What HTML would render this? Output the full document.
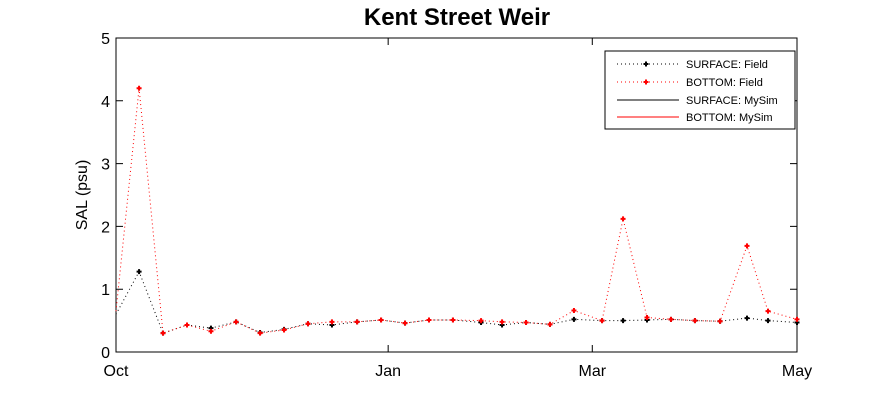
<!DOCTYPE html>
<html><head><meta charset="utf-8"><style>
html,body{margin:0;padding:0;background:#fff;}
svg{display:block;font-family:"Liberation Sans",Arial,sans-serif;}
</style></head><body>
<svg id="chart" width="887" height="414">
<rect x="0" y="0" width="887" height="414" fill="#fff"/>
<text x="457" y="25" text-anchor="middle" font-size="24" font-weight="bold">Kent Street Weir</text>
<text transform="translate(87,195) rotate(-90)" text-anchor="middle" font-size="16">SAL (psu)</text>
<g id="axes"></g>
<g id="series"></g>
<g>
<rect x="605" y="51" width="190" height="78" fill="#fff" stroke="#000" stroke-width="1"/>
<g>
<line x1="617" y1="64" x2="679" y2="64" stroke="#000" stroke-dasharray="1,3"/>
<path d="M646,61.5v5M643.5,64h5" stroke="#000" stroke-width="2"/>
<text x="686" y="68" font-size="11">SURFACE: Field</text></g>
<g>
<line x1="617" y1="82" x2="679" y2="82" stroke="#f00" stroke-dasharray="1,3"/>
<path d="M646,79.5v5M643.5,82h5" stroke="#f00" stroke-width="2"/>
<text x="686" y="86" font-size="11">BOTTOM: Field</text></g>
<g>
<line x1="617" y1="100" x2="679" y2="100" stroke="#000"/>
<text x="686" y="104" font-size="11">SURFACE: MySim</text></g>
<g>
<line x1="617" y1="117" x2="679" y2="117" stroke="#f00"/>
<text x="686" y="121" font-size="11">BOTTOM: MySim</text></g>
</g>
</svg>
<script>
const days = [0,7.8,15.9,24,32.1,40.6,48.7,56.8,64.9,73,81.5,89.6,97.7,105.8,113.9,123.4,130.5,138.6,146.7,154.8,164.3,171.4,179.5,187.6,195.7,204.2,213.3,220.4,230.2];
const surfaceField = [0.6,1.28,0.3,0.43,0.38,0.48,0.31,0.36,0.45,0.43,0.48,0.51,0.46,0.51,0.51,0.47,0.43,0.47,0.44,0.52,0.5,0.5,0.51,0.52,0.5,0.49,0.54,0.5,0.47];
const bottomField = [0.65,4.2,0.3,0.43,0.33,0.48,0.3,0.35,0.45,0.48,0.48,0.51,0.46,0.51,0.51,0.5,0.48,0.47,0.44,0.66,0.5,2.12,0.55,0.52,0.5,0.49,1.69,0.65,0.52];
const yTicks = [0,1,2,3,4,5];
const xTickDays = [0,92,161,230.2];
const xTickLabels = ["Oct","Jan","Mar","May"];

const X0=116,X1=797,Y0=352,Y1=38,D0=0,D1=230.2,V0=0,V1=5;
const sx=d=>X0+(d-D0)/(D1-D0)*(X1-X0);
const sy=v=>Y0-(v-V0)/(V1-V0)*(Y0-Y1);
const NS="http://www.w3.org/2000/svg";
function mk(tag,attrs,parent){const e=document.createElementNS(NS,tag);for(const k in attrs)e.setAttribute(k,attrs[k]);parent.appendChild(e);return e;}
const axes=document.getElementById('axes'), ser=document.getElementById('series');

const frame=mk('rect',{x:X0,y:Y1,width:X1-X0,height:Y0-Y1,fill:'none',stroke:'#000','stroke-width':1},axes);


yTicks.forEach(v=>{
  const y=sy(v);
  const t=mk('path',{d:`M${X0},${y}h7M${X1},${y}h-7`,stroke:'#000'},axes);
  
  
  const l=mk('text',{x:X0-6,y:y+6,'text-anchor':'end','font-size':16},axes);
  l.textContent=v;
  
  
});
xTickDays.forEach((d,i)=>{
  const x=sx(d);
  const t=mk('path',{d:`M${x},${Y0}v-7M${x},${Y1}v7`,stroke:'#000'},axes);
  
  
  const l=mk('text',{x:x,y:Y0+24,'text-anchor':'middle','font-size':16},axes);
  l.textContent=xTickLabels[i];
  
  
});
function drawSeries(vals,color,name){
  const pts=days.map((d,i)=>sx(d)+','+sy(vals[i])).join(' ');
  const pl=mk('polyline',{points:pts,fill:'none',stroke:color,'stroke-dasharray':'1,3'},ser);
  
  
  days.forEach((d,i)=>{
    if(i===0) return;
    const x=sx(d),y=sy(vals[i]);
    const m=mk('path',{d:`M${x},${y-2.5}v5M${x-2.5},${y}h5`,stroke:color,'stroke-width':2},ser);
    
    
  });
}
drawSeries(surfaceField,'#000','surface-field');
drawSeries(bottomField,'#f00','bottom-field');
</script>
</body></html>
